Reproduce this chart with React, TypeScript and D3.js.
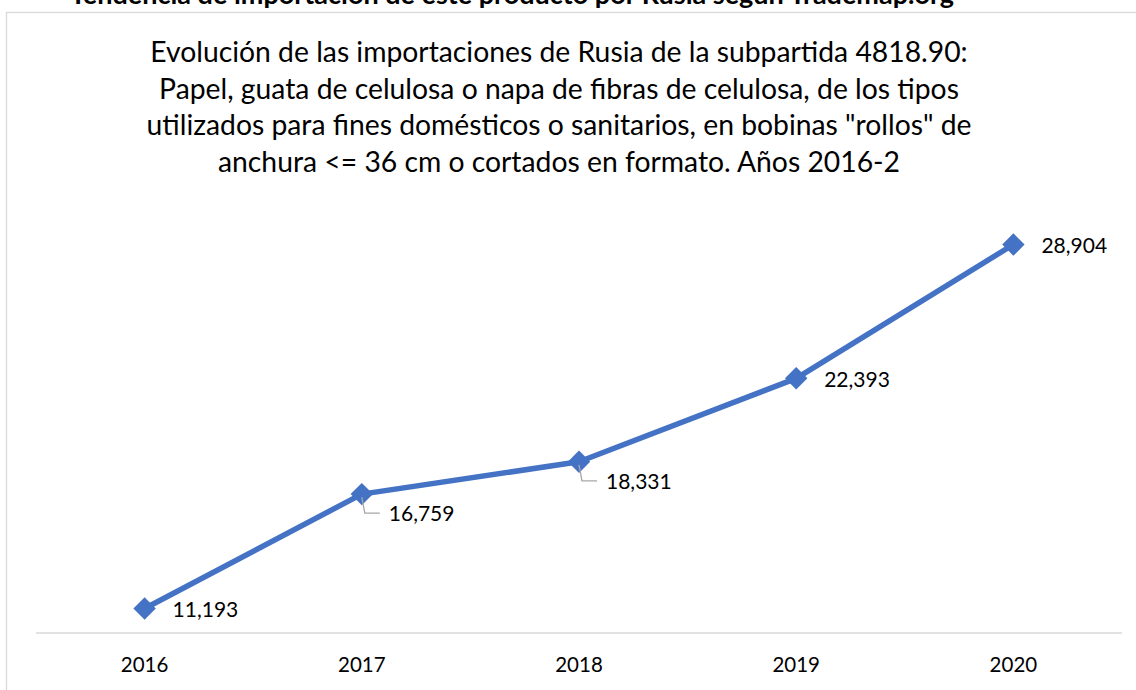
import React from "react";
import * as d3 from "d3";

const years = ["2016", "2017", "2018", "2019", "2020"];
const values = [11193, 16759, 18331, 22393, 28904];
const labels = ["11,193", "16,759", "18,331", "22,393", "28,904"];
const leader = [false, true, true, false, false];
const titleLines = [
  "Evolución de las importaciones de Rusia de la subpartida 4818.90:",
  "Papel, guata de celulosa o napa de fibras de celulosa, de los tipos",
  "utilizados para fines domésticos o sanitarios, en bobinas \"rollos\" de",
  "anchura <= 36 cm o cortados en formato. Años 2016-2",
];
const topText = "Tendencia de importación de este producto por Rusia según Trademap.org";
const yDomain = [10000, 30000];

const W = 1136, H = 690;
const FONT = "Lato, 'Open Sans', sans-serif";
const BLUE = "#4472C4";

export default function App() {
  const x = d3.scaleBand<string>().domain(years).range([36, 1122]);
  const y = d3.scaleLinear().domain(yDomain).range([633, 222]);
  const cx = (d: string) => (x(d) as number) + x.bandwidth() / 2;
  const line = d3.line<number>().x((_, i) => cx(years[i])).y((v) => y(v));
  const diamond = d3.symbol().type(d3.symbolDiamond2).size(320)();

  return (
    <svg width={W} height={H} style={{ position: "absolute", left: 0, top: 0, background: "#fff" }}>
      <rect x={0} y={0} width={W} height={H} fill="#fff" />
      <text x={512} y={4} textAnchor="middle" fontFamily={FONT} fontWeight="bold" fontSize={27} fill="#000">
        {topText}
      </text>
      <rect x={6.5} y={12.5} width={W + 20} height={H + 20} fill="none" stroke="#d9d9d9" strokeWidth={1.3} />
      {titleLines.map((t, i) => (
        <text key={i} x={559} y={62 + i * 36.5} textAnchor="middle" fontFamily={FONT} fontSize={28.3} fill="#000">
          {t}
        </text>
      ))}
      <line x1={36} x2={1122} y1={y(yDomain[0])} y2={y(yDomain[0])} stroke="#d9d9d9" strokeWidth={1.5} />
      {years.map((yr) => (
        <text key={yr} x={cx(yr)} y={672} textAnchor="middle" fontFamily={FONT} fontSize={20.5} fill="#000">
          {yr}
        </text>
      ))}
      <path d={line(values) || ""} fill="none" stroke={BLUE} strokeWidth={5.5} strokeLinejoin="round" />
      {values.map((v, i) => (
        <path key={i} d={diamond || ""} transform={`translate(${cx(years[i])},${y(v)})`} fill={BLUE} />
      ))}
      {values.map((v, i) => {
        const px = cx(years[i]);
        const py = y(v);
        if (leader[i]) {
          return (
            <g key={i}>
              <path d={`M${px},${py + 3}L${px + 3},${py + 19}H${px + 18}`} fill="none" stroke="#a6a6a6" strokeWidth={1.3} />
              <text x={px + 27} y={py + 27} fontFamily={FONT} fontSize={21} fill="#000">
                {labels[i]}
              </text>
            </g>
          );
        }
        return (
          <text key={i} x={px + 28} y={py + 8.5} fontFamily={FONT} fontSize={21} fill="#000">
            {labels[i]}
          </text>
        );
      })}
    </svg>
  );
}
